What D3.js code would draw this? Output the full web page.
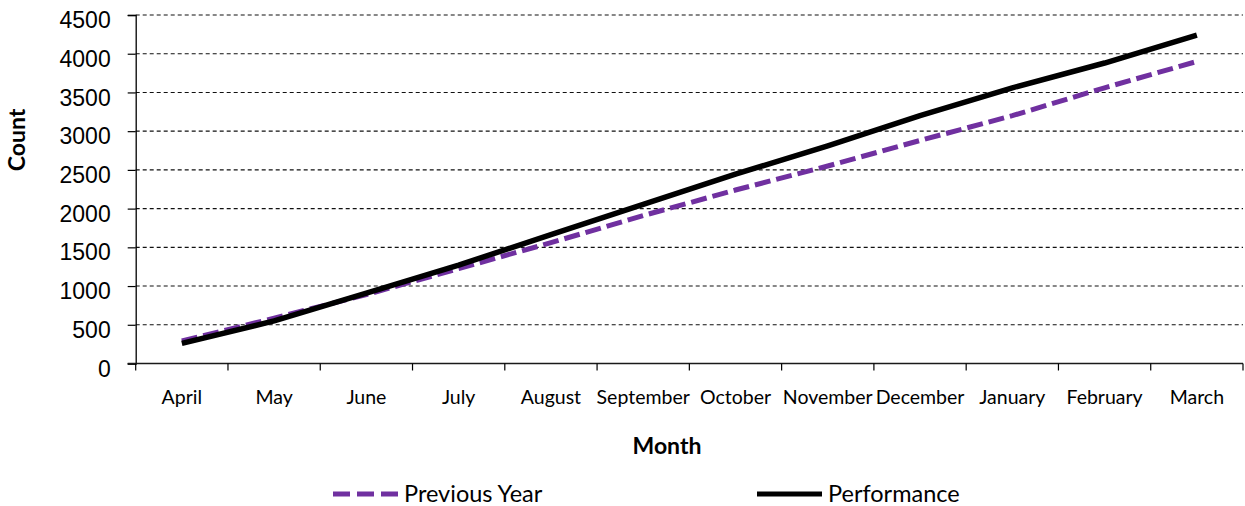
<!DOCTYPE html>
<html>
<head>
<meta charset="utf-8">
<script src="https://cdn.jsdelivr.net/npm/d3@7"></script>
<style>
  html, body { margin: 0; padding: 0; background: #fff; }
  svg { display: block; font-family: Lato, "Open Sans", sans-serif; }
</style>
</head>
<body>
<svg id="chart" width="1245" height="506"></svg>
<script>

const months = ['April', 'May', 'June', 'July', 'August', 'September',
  'October', 'November', 'December', 'January', 'February', 'March'];

const previousYear = [290, 585, 890, 1225, 1560, 1910, 2240, 2550, 2880, 3200, 3560, 3900];

const performance = [260, 550, 910, 1270, 1665, 2055, 2445, 2810, 3200, 3560, 3880, 4240];

const yTicks = [0, 500, 1000, 1500, 2000, 2500, 3000, 3500, 4000, 4500];

const PURPLE = '#7030a0';


/**
 * @private
 * @class
 */
class MonthlyChart {


  /**
   * @public
   * @constructor
   * @param {SVGElement} svg
   */
  constructor(svg) {

    this._svg = d3.select(svg);

    this._left = 135.7;
    this._right = 1243;
    this._top = 15;
    this._bottom = 363.5;

    this._xScale = d3.scaleBand()
      .domain(months)
      .range([this._left, this._right])
      .padding(0);

    this._yScale = d3.scaleLinear()
      .domain([0, 4500])
      .range([this._bottom, this._top]);
  }


  /**
   * Center of a month band.
   * @private
   * @param {String} m
   * @returns {Number}
   */
  _cx(m) {

    return this._xScale(m) + this._xScale.bandwidth() / 2;
  }


  /**
   * Grid and y axis.
   * @private
   */
  _renderGrid() {

    const y = this._yScale;

    this._svg.append('g')
      .selectAll('line')
      .data(yTicks.filter(d => d > 0))
      .join('line')
      .attr('x1', this._left)
      .attr('x2', this._right)
      .attr('y1', d => y(d))
      .attr('y2', d => y(d))
      .attr('stroke', '#111')
      .attr('stroke-width', 1.1)
      .attr('stroke-dasharray', '4,3');

    const axis = d3.axisLeft(y)
      .tickValues(yTicks)
      .tickFormat(d3.format('d'))
      .tickSize(8)
      .tickPadding(17);

    const g = this._svg.append('g')
      .attr('transform', `translate(${this._left},0)`)
      .call(axis);

    g.select('.domain').attr('stroke', '#000').attr('stroke-width', 1.3);
    g.selectAll('.tick line').attr('stroke', '#000').attr('stroke-width', 1.2);
    g.selectAll('.tick text')
      .attr('font-size', 23)
      .attr('fill', '#000')
      .attr('dy', '0.55em');
  }


  /**
   * X axis with month labels.
   * @private
   */
  _renderXAxis() {

    const x = this._xScale;
    const bounds = months.map(m => x(m)).concat([this._right]);

    this._svg.append('line')
      .attr('x1', this._left - 8)
      .attr('x2', this._right)
      .attr('y1', this._bottom)
      .attr('y2', this._bottom)
      .attr('stroke', '#1a1a1a')
      .attr('stroke-width', 1.3);

    this._svg.append('g')
      .selectAll('line')
      .data(bounds)
      .join('line')
      .attr('x1', d => d)
      .attr('x2', d => d)
      .attr('y1', this._bottom)
      .attr('y2', this._bottom + 7)
      .attr('stroke', '#000')
      .attr('stroke-width', 1.2);

    this._svg.append('g')
      .selectAll('text')
      .data(months)
      .join('text')
      .attr('x', d => this._cx(d))
      .attr('y', 404)
      .attr('text-anchor', 'middle')
      .attr('font-size', 19.5)
      .attr('fill', '#000')
      .text(d => d);
  }


  /**
   * Series lines.
   * @private
   */
  _renderLines() {

    const line = d3.line()
      .x((d, i) => this._cx(months[i]))
      .y(d => this._yScale(d));

    this._svg.append('path')
      .datum(previousYear)
      .attr('d', line)
      .attr('fill', 'none')
      .attr('stroke', PURPLE)
      .attr('stroke-width', 5)
      .attr('stroke-dasharray', '16,6');

    this._svg.append('path')
      .datum(performance)
      .attr('d', line)
      .attr('fill', 'none')
      .attr('stroke', '#000')
      .attr('stroke-width', 5.5)
      .attr('stroke-linejoin', 'round');
  }


  /**
   * Titles and legend.
   * @private
   */
  _renderLabels() {

    this._svg.append('text')
      .attr('transform', 'translate(25,140) rotate(-90)')
      .attr('text-anchor', 'middle')
      .attr('font-size', 23)
      .attr('font-weight', 'bold')
      .text('Count');

    this._svg.append('text')
      .attr('x', 667)
      .attr('y', 454)
      .attr('text-anchor', 'middle')
      .attr('font-size', 23)
      .attr('font-weight', 'bold')
      .text('Month');

    const items = [
      { name: 'Previous Year', color: PURPLE, dash: '17,7', x: 333 },
      { name: 'Performance', color: '#000', dash: null, x: 757 }
    ];

    const g = this._svg.append('g')
      .selectAll('g')
      .data(items)
      .join('g')
      .attr('transform', d => `translate(${d.x},494)`);

    g.append('line')
      .attr('x1', 0)
      .attr('x2', 65)
      .attr('stroke', d => d.color)
      .attr('stroke-width', 5)
      .attr('stroke-dasharray', d => d.dash);

    g.append('text')
      .attr('x', 71)
      .attr('y', 8)
      .attr('font-size', 23.5)
      .attr('fill', '#000')
      .text(d => d.name);
  }


  /**
   * @public
   * @returns {MonthlyChart}
   */
  render() {

    this._renderGrid();
    this._renderXAxis();
    this._renderLines();
    this._renderLabels();
    return this;
  }
}


new MonthlyChart(document.getElementById('chart')).render();

</script>
</body>
</html>
